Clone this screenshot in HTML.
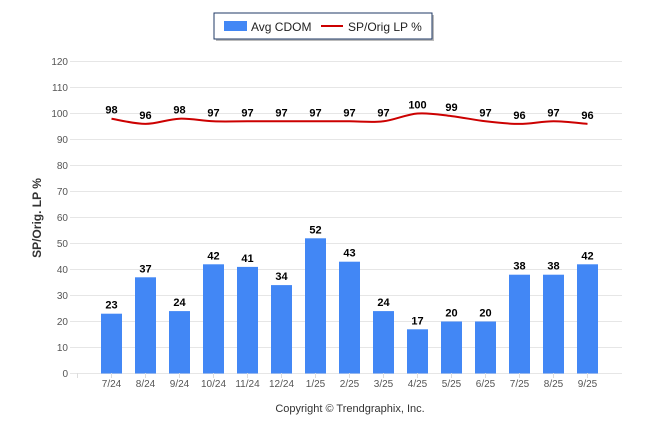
<!DOCTYPE html><html><head><style>body{margin:0;background:#fff}svg{font-family:"Liberation Sans",Arial,sans-serif}</style></head><body>
<svg width="646" height="434" xmlns="http://www.w3.org/2000/svg">
<rect width="646" height="434" fill="#fff"/>
<rect x="216" y="15" width="218" height="26" fill="#777" opacity="0.5"/>
<rect x="214" y="13" width="218" height="26" fill="#fff" stroke="#1f3864" stroke-width="1"/>
<rect x="224" y="21" width="23" height="10" fill="#4287f5"/>
<text x="251" y="31" font-size="12" fill="#222">Avg CDOM</text>
<line x1="321" y1="26" x2="343" y2="26" stroke="#c00" stroke-width="2"/>
<text x="348" y="31" font-size="12" fill="#222">SP/Orig LP %</text>
<g stroke="#e6e6e6" stroke-width="1">
<line x1="70" x2="622" y1="61.5" y2="61.5"/><line x1="70" x2="622" y1="87.5" y2="87.5"/><line x1="70" x2="622" y1="113.5" y2="113.5"/><line x1="70" x2="622" y1="139.5" y2="139.5"/><line x1="70" x2="622" y1="165.5" y2="165.5"/><line x1="70" x2="622" y1="191.5" y2="191.5"/><line x1="70" x2="622" y1="217.5" y2="217.5"/><line x1="70" x2="622" y1="243.5" y2="243.5"/><line x1="70" x2="622" y1="269.5" y2="269.5"/><line x1="70" x2="622" y1="295.5" y2="295.5"/><line x1="70" x2="622" y1="321.5" y2="321.5"/><line x1="70" x2="622" y1="347.5" y2="347.5"/><line x1="70" x2="622" y1="373.5" y2="373.5"/>
</g>
<g font-size="10" fill="#555" text-anchor="end">
<text x="68" y="65">120</text><text x="68" y="91">110</text><text x="68" y="117">100</text><text x="68" y="143">90</text><text x="68" y="169">80</text><text x="68" y="195">70</text><text x="68" y="221">60</text><text x="68" y="247">50</text><text x="68" y="273">40</text><text x="68" y="299">30</text><text x="68" y="325">20</text><text x="68" y="351">10</text><text x="68" y="377">0</text>
</g>
<text transform="translate(41,218) rotate(-90)" font-size="12" font-weight="bold" fill="#333" text-anchor="middle">SP/Orig. LP %</text>
<g id="bars" fill="#4287f5"></g>
<g id="lbl" font-size="11" font-weight="bold" fill="#000" text-anchor="middle"></g>
<g id="xl" font-size="10" fill="#555" text-anchor="middle"></g>
<g id="tk" stroke="#ddd"></g>
<path id="ln" fill="none" stroke="#c00" stroke-width="2"/>
<text x="350" y="412" font-size="11" fill="#333" text-anchor="middle">Copyright © Trendgraphix, Inc.</text>
</svg>
<script>
var L=["7/24","8/24","9/24","10/24","11/24","12/24","1/25","2/25","3/25","4/25","5/25","6/25","7/25","8/25","9/25"];
var B=[23,37,24,42,41,34,52,43,24,17,20,20,38,38,42];
var P=[98,96,98,97,97,97,97,97,97,100,99,97,96,97,96];
var ns="http://www.w3.org/2000/svg";function el(t,a,p,tx){var e=document.createElementNS(ns,t);for(var k in a)e.setAttribute(k,a[k]);if(tx)e.textContent=tx;document.getElementById(p).appendChild(e);}
var y=function(v){return 373.5-v*2.6};var pts=[];
for(var i=0;i<15;i++){var cx=111.5+34*i;
el("rect",{x:cx-10.5,y:y(B[i]),width:21,height:B[i]*2.6},"bars");
el("text",{x:cx,y:y(B[i])-5},"lbl",B[i]);
el("text",{x:cx,y:y(P[i])-5},"lbl",P[i]);
el("text",{x:cx,y:387},"xl",L[i]);
pts.push([cx,y(P[i])]);}
var d="M"+pts[0][0]+","+pts[0][1];
for(var i=0;i<14;i++){var p0=pts[Math.max(i-1,0)],p1=pts[i],p2=pts[i+1],p3=pts[Math.min(i+2,14)];
var t=0.5/3;d+="C"+(p1[0]+(p2[0]-p0[0])*t)+","+(p1[1]+(p2[1]-p0[1])*t)+" "+(p2[0]-(p3[0]-p1[0])*t)+","+(p2[1]-(p3[1]-p1[1])*t)+" "+p2[0]+","+p2[1];}
for(var i=0;i<16;i++){var x=77.5+34*i;el("line",{x1:x,x2:x,y1:373,y2:378},"tk");}
document.getElementById("ln").setAttribute("d",d);
</script>
</body></html>
